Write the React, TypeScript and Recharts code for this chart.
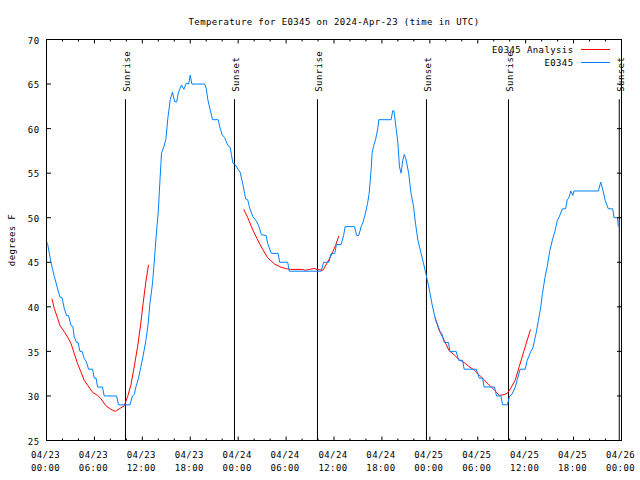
import React from 'react';
import { LineChart, Line, XAxis, YAxis, ReferenceLine } from 'recharts';

// Observed station temperatures (hours since 04/23 00:00 UTC, degrees F)
const observed: [number, number][] = [
  [0.0, 47.3], [0.15, 47], [0.56, 45], [0.98, 43.4], [1.4, 42], [1.69, 41.1], [1.95, 41], [2.23, 39.8],
  [2.52, 39], [2.77, 39], [3.06, 37.9], [3.3, 37.8], [3.48, 36.6], [3.77, 36], [3.95, 36], [4.19, 35],
  [4.45, 35], [4.73, 34.2], [5.0, 33.8], [5.27, 33], [5.77, 33], [5.98, 32], [6.2, 32], [6.4, 31],
  [7.0, 31], [7.23, 30], [8.77, 30], [9.02, 29], [10.44, 29], [10.77, 30], [11.0, 30.2], [11.19, 31],
  [11.52, 32], [11.8, 33.2], [12.1, 34.5], [12.44, 36.2], [12.73, 38.1], [12.94, 40.3], [13.27, 42.6],
  [13.48, 44.9], [13.69, 47.5], [13.98, 50.5], [14.19, 53.9], [14.4, 57.25], [14.7, 58], [14.94, 58.75],
  [15.2, 61.2], [15.5, 63.25], [15.77, 64.1], [16.06, 63], [16.3, 63], [16.5, 64], [16.9, 64.9],
  [17.2, 64.4], [17.5, 65.1], [17.8, 65], [18.0, 66], [18.2, 65], [19.8, 65], [20.0, 64.5], [20.2, 63.25],
  [20.5, 62.1], [20.8, 61], [21.5, 61], [21.7, 60.2], [22.0, 59.3], [22.3, 59], [22.7, 58.1], [23.0, 57.9],
  [23.15, 57.1], [23.35, 56.1], [23.6, 56], [24.0, 55.4], [24.25, 55.1], [24.6, 53.7], [24.94, 52.1],
  [25.2, 52], [25.44, 51.1], [25.85, 50.1], [26.3, 49.6], [26.6, 49], [26.9, 48.1], [27.5, 48], [27.7, 47.1],
  [28.15, 46], [29.0, 46], [29.2, 45], [30.2, 45], [30.4, 44], [34.4, 44], [34.7, 45], [35.35, 45],
  [35.65, 46], [36.1, 46], [36.3, 47], [36.9, 47], [37.2, 48], [37.4, 49], [38.56, 49], [38.85, 48],
  [39.1, 48], [39.4, 49], [39.6, 49.4], [39.94, 50.5], [40.2, 51.6], [40.4, 52.7], [40.65, 55.4],
  [40.77, 57.2], [40.94, 58], [41.2, 58.75], [41.5, 60.1], [41.6, 61], [43.15, 61], [43.35, 62], [43.5, 62],
  [43.8, 59.9], [44.0, 58.4], [44.2, 55.7], [44.4, 55], [44.6, 56.4], [44.8, 57.1], [45.0, 56.6],
  [45.35, 55], [45.65, 52.7], [45.94, 51.4], [46.2, 49.4], [46.5, 47.5], [46.9, 46], [47.2, 44.9],
  [47.5, 43.75], [47.9, 42.1], [48.3, 40.2], [48.7, 38.6], [49.0, 37.9], [49.3, 37.2], [49.5, 37],
  [49.8, 36], [50.35, 36], [50.5, 35], [51.3, 35], [51.6, 34], [52.1, 34], [52.3, 33], [53.8, 33],
  [54.2, 32], [54.6, 32], [54.8, 31], [56.1, 31], [56.35, 30], [56.9, 30], [57.1, 29], [57.7, 29],
  [58.0, 30], [58.3, 30.2], [58.7, 31], [59.0, 32], [59.3, 33], [59.94, 33], [60.2, 34], [60.65, 35],
  [60.9, 35.4], [61.3, 37], [61.6, 38.5], [61.9, 40], [62.1, 41.5], [62.44, 43.4], [62.7, 44.5],
  [63.0, 46.2], [63.35, 47.5], [63.7, 48.6], [63.97, 49.7], [64.2, 50.1], [64.6, 51], [65.0, 51],
  [65.2, 52], [65.4, 52.2], [65.65, 53], [65.9, 52.5], [66.06, 53], [69.1, 53], [69.4, 54], [69.7, 53],
  [69.94, 52], [70.35, 51], [70.9, 51], [71.06, 50], [71.5, 50], [71.6, 49],
];

// Analysis segments (hours, degrees F)
const analysisNight1: [number, number][] = [
  [0.69, 40.9], [0.98, 39.8], [1.4, 38.7], [1.69, 37.9], [2.23, 37.2], [2.65, 36.6], [3.06, 35.9],
  [3.48, 34.75], [3.9, 33.6], [4.31, 32.7], [4.73, 31.75], [5.15, 31.2], [5.77, 30.4], [6.4, 30.06],
  [6.81, 29.7], [7.44, 28.9], [8.06, 28.5], [8.6, 28.26], [9.1, 28.55], [9.73, 28.9], [10.15, 29.9],
  [10.56, 31.2], [10.98, 33.25], [11.4, 35.5], [11.8, 38.1], [12.1, 40.4], [12.44, 42.8], [12.77, 44.7],
];
const analysisNight2: [number, number][] = [
  [24.7, 50.95], [25.2, 50], [25.85, 48.6], [26.5, 47.4], [27.1, 46.4], [27.7, 45.5], [28.56, 44.8],
  [29.2, 44.5], [29.9, 44.3], [30.56, 44.2], [32.0, 44.2], [32.4, 44.1], [32.9, 44.2], [33.5, 44.3],
  [33.9, 44.2], [34.6, 44.1], [35.0, 44.7], [35.56, 45.6], [36.2, 46.9], [36.6, 47.95],
];
const analysisNight3: [number, number][] = [
  [48.65, 38.8], [49.2, 37.3], [49.8, 36.25], [50.4, 35.1], [51.06, 34.6], [51.7, 34.05], [52.3, 33.75],
  [52.9, 33.3], [53.56, 32.9], [54.2, 32.35], [54.8, 31.8], [55.4, 31.25], [56.06, 30.7], [56.7, 30.05],
  [57.3, 30.15], [57.7, 30.3], [58.15, 30.9], [58.7, 31.8], [59.2, 33.3], [59.8, 35.1], [60.6, 37.45],
];

const sunEventLabels = ['Sunrise', 'Sunset', 'Sunrise', 'Sunset', 'Sunrise', 'Sunset'];
const sunEventHours = [9.89, 23.54, 33.93, 47.58, 57.85, 71.72];
const sunLineTop = 63.3;

const xTicks = [0, 2, 4, 6, 8, 10, 12, 14, 16, 18, 20, 22, 24, 26, 28, 30, 32, 34, 36, 38, 40, 42, 44, 46, 48,
  50, 52, 54, 56, 58, 60, 62, 64, 66, 68, 70, 72];
const xMajorHours = [0, 6, 12, 18, 24, 30, 36, 42, 48, 54, 60, 66, 72];
const xLabelDates = ['04/23', '04/23', '04/23', '04/23', '04/24', '04/24', '04/24', '04/24', '04/25', '04/25',
  '04/25', '04/25', '04/26'];
const xLabelTimes = ['00:00', '06:00', '12:00', '18:00', '00:00', '06:00', '12:00', '18:00', '00:00', '06:00',
  '12:00', '18:00', '00:00'];
const yTicks = [25, 30, 35, 40, 45, 50, 55, 60, 65, 70];

const seriesNames = ['E0345 Analysis', 'E0345'];
const seriesColors = ['#ff0000', '#0080ff'];

const titleText = 'Temperature for E0345 on 2024-Apr-23 (time in UTC)';
const yAxisTitle = 'degrees F';

const W = 640;
const H = 480;
const AXW = 1; // thin axis band
const M = { top: 39.5, right: 18.5, bottom: 39.5 - AXW, left: 46.5 - AXW };
const PW = W - 46.5 - 18.5;
const PH = H - 39.5 - 39.5;

const FONT = "'DejaVu Sans Mono', monospace";
const textStyle: React.CSSProperties = { fontFamily: FONT, fontSize: 9, letterSpacing: 0.4 };

const toRows = (arr: [number, number][]) => arr.map(([h, T]) => ({ h, T }));

const BottomTick = (props: any) => {
  const { x, y, payload } = props;
  const v = payload.value;
  const idx = xMajorHours.indexOf(v);
  const major = idx >= 0;
  const len = major ? 4 : 2;
  return (
    <g>
      <line x1={x} x2={x} y1={y} y2={y - len} stroke="#000" />
      <line x1={x} x2={x} y1={y - PH} y2={y - PH + len} stroke="#000" />
      {major && (
        <text x={x - 1} y={y + 17} textAnchor="middle" fill="#000" style={textStyle}>{xLabelDates[idx]}</text>
      )}
      {major && (
        <text x={x - 1} y={y + 30.2} textAnchor="middle" fill="#000" style={textStyle}>{xLabelTimes[idx]}</text>
      )}
    </g>
  );
};

const LeftTick = (props: any) => {
  const { x, y, payload } = props;
  return (
    <g>
      <line x1={x} x2={x + 4.5} y1={y} y2={y} stroke="#000" />
      <line x1={x + PW} x2={x + PW - 4.5} y1={y} y2={y} stroke="#000" />
      <text x={x - 7} y={y + 4.2} textAnchor="end" fill="#000" style={textStyle}>{payload.value}</text>
    </g>
  );
};

const sunLabel = (text: string) => (props: any) => {
  const vb = props.viewBox || {};
  const x = vb.x ?? 0;
  const y0 = vb.y ?? 0;
  const top = Math.min(y0, y0 + (vb.height || 0));
  return (
    <text
      transform={`translate(${x + 4.5},${top - 7.5}) rotate(-90)`}
      textAnchor="start"
      fill="#000"
      style={textStyle}
    >
      {text}
    </text>
  );
};

export default function App() {
  const analysis = [analysisNight1, analysisNight2, analysisNight3];
  return (
    <div style={{ position: 'absolute', left: 0, top: 0, width: W, height: H, background: '#fff' }}>
      <LineChart width={W} height={H} margin={M}>
        <XAxis
          type="number"
          dataKey="h"
          domain={[0, 72]}
          ticks={xTicks}
          interval={0}
          height={AXW}
          tickSize={0}
          tickMargin={0}
          tickLine={false}
          axisLine={{ stroke: '#000' }}
          tick={(p: any) => <BottomTick {...p} />}
          allowDataOverflow
        />
        <YAxis
          type="number"
          domain={[25, 70]}
          ticks={yTicks}
          interval={0}
          width={AXW}
          tickSize={0}
          tickMargin={0}
          tickLine={false}
          axisLine={{ stroke: '#000' }}
          tick={(p: any) => <LeftTick {...p} />}
          allowDataOverflow
        />
        <ReferenceLine y={70} stroke="#000" />
        <ReferenceLine x={72} stroke="#000" />
        <ReferenceLine y={25} stroke="#000" />
        <ReferenceLine x={0} stroke="#000" />
        {sunEventHours.map((h, i) => (
          <ReferenceLine
            key={`sun-${i}`}
            segment={[{ x: h, y: 25 }, { x: h, y: sunLineTop }]}
            stroke="#000"
            strokeWidth={1}
            label={sunLabel(sunEventLabels[i])}
          />
        ))}
        {analysis.map((seg, i) => (
          <Line
            key={`an-${i}`}
            data={toRows(seg)}
            dataKey="T"
            type="linear"
            stroke={seriesColors[0]}
            strokeWidth={1}
            dot={false}
            activeDot={false}
            isAnimationActive={false}
          />
        ))}
        <Line
          data={toRows(observed)}
          dataKey="T"
          type="linear"
          stroke={seriesColors[1]}
          strokeWidth={1}
          dot={false}
          activeDot={false}
          isAnimationActive={false}
        />
      </LineChart>
      <svg width={W} height={H} style={{ position: 'absolute', left: 0, top: 0, pointerEvents: 'none' }}>
        <text x={46.5 + PW / 2} y={25.3} textAnchor="middle" fill="#000" style={textStyle}>{titleText}</text>
        <text transform={`translate(15,240) rotate(-90)`} textAnchor="middle" fill="#000" style={textStyle}>{yAxisTitle}</text>
        {seriesNames.map((name, i) => (
          <g key={name}>
            <text x={573.5} y={53.3 + i * 13} textAnchor="end" fill="#000" style={textStyle}>{name}</text>
            <line x1={581} x2={610} y1={49.5 + i * 13} y2={49.5 + i * 13} stroke={seriesColors[i]} strokeWidth={1} />
          </g>
        ))}
      </svg>
    </div>
  );
}
